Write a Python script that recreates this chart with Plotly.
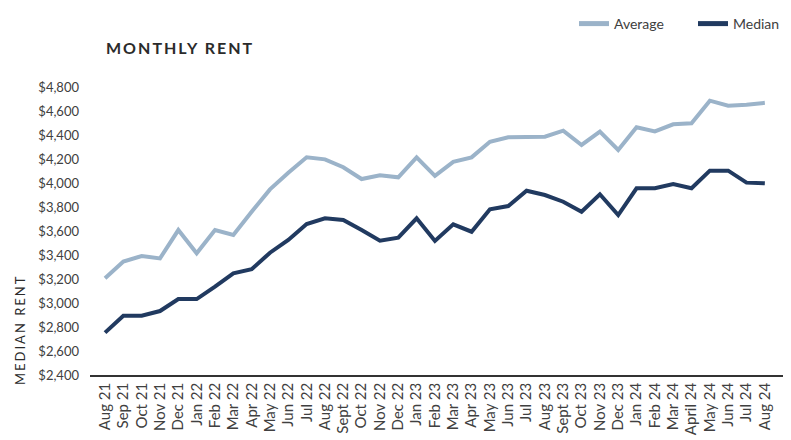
import plotly.graph_objects as go

months = ["Aug 21", "Sep 21", "Oct 21", "Nov 21", "Dec 21", "Jan 22", "Feb 22", "Mar 22",
          "Apr 22", "May 22", "Jun 22", "Jul 22", "Aug 22", "Sept 22", "Oct 22", "Nov 22",
          "Dec 22", "Jan 23", "Feb 23", "Mar 23", "Apr 23", "May 23", "Jun 23", "Jul 23",
          "Aug 23", "Sept 23", "Oct 23", "Nov 23", "Dec 23", "Jan 24", "Feb 24", "Mar 24",
          "April 24", "May 24", "Jun 24", "Jul 24", "Aug 24"]

average = [3206, 3346, 3392, 3372, 3608, 3414, 3608, 3567, 3761, 3947, 4086, 4214, 4197,
           4131, 4033, 4065, 4047, 4214, 4060, 4176, 4214, 4344, 4381, 4381, 4386, 4436,
           4317, 4428, 4275, 4464, 4430, 4489, 4497, 4686, 4644, 4652, 4668]

median = [2753, 2894, 2894, 2933, 3033, 3033, 3136, 3247, 3281, 3419, 3525, 3658, 3706,
          3692, 3608, 3519, 3544, 3706, 3517, 3656, 3594, 3781, 3808, 3936, 3900, 3844,
          3761, 3906, 3733, 3956, 3956, 3992, 3956, 4103, 4103, 4003, 3997]

y_ticks = list(range(2400, 4801, 200))
y_tick_text = [f"${v:,}" for v in y_ticks]

AVG_COLOR = "#9BB3C9"
MED_COLOR = "#213A60"

FONT = "Lato"
OFF = 8  # page body margin offset
W, H = 791 - OFF, 440 - OFF
ML, MT = 90 - OFF, 87 - OFF
PW, PH = 695, 288
MR = W - ML - PW
MB = H - MT - PH


def px_x(p):  # p in reference page pixels
    return (p - OFF - ML) / PW


def px_y(p):
    return (H - MB - (p - OFF)) / PH


fig = go.Figure()
fig.add_trace(go.Scatter(x=months, y=average, mode="lines", name="Average",
                         line=dict(color=AVG_COLOR, width=4), legendgroup="a",
                         showlegend=False))
fig.add_trace(go.Scatter(x=months, y=median, mode="lines", name="Median",
                         line=dict(color=MED_COLOR, width=4), legendgroup="m",
                         showlegend=False))
# legend-only entries with thicker swatches
fig.add_trace(go.Scatter(x=[None], y=[None], mode="lines", name="Average",
                         line=dict(color=AVG_COLOR, width=6), legendgroup="a"))
fig.add_trace(go.Scatter(x=[None], y=[None], mode="lines", name="Median",
                         line=dict(color=MED_COLOR, width=6), legendgroup="m"))

fig.update_layout(
    width=W, height=H,
    margin=dict(l=ML, r=MR, t=MT, b=MB, autoexpand=False),
    plot_bgcolor="white", paper_bgcolor="white",
    font=dict(family=FONT, size=13, color="#404040"),
    showlegend=True,
    legend=dict(orientation="h", x=px_x(574), xanchor="left", y=px_y(8), yanchor="top",
                font=dict(size=14, color="#404040"), itemwidth=30,
                entrywidth=74, entrywidthmode="pixels", borderwidth=0,
                traceorder="normal", itemsizing="constant"),
    xaxis=dict(type="category", range=[-0.82, 37.1], tickangle=-90,
               showgrid=False, showline=True, linecolor="#333333", linewidth=1.5,
               ticks="", tickfont=dict(size=15, color="#404040"), automargin=False),
    yaxis=dict(range=[2400, 4800], tickvals=y_ticks, ticktext=y_tick_text,
               showgrid=False, zeroline=False, showline=False, ticks="",
               ticklabelstandoff=10,
               tickfont=dict(size=13, color="#404040"), automargin=False),
    annotations=[
        dict(text="<span style='letter-spacing:2px'><b>MONTHLY RENT</b></span>",
             xref="paper", yref="paper", x=px_x(104), y=px_y(48),
             xanchor="left", yanchor="middle", showarrow=False,
             font=dict(family=FONT, size=16, color="#2b2b2b")),
        dict(text="<span style='letter-spacing:2px'>MEDIAN RENT</span>",
             xref="paper", yref="paper", x=px_x(20), y=px_y(330),
             xanchor="center", yanchor="middle", textangle=-90, showarrow=False,
             font=dict(family=FONT, size=13, color="#2b2b2b")),
    ],
)

fig.write_html("out.html")
